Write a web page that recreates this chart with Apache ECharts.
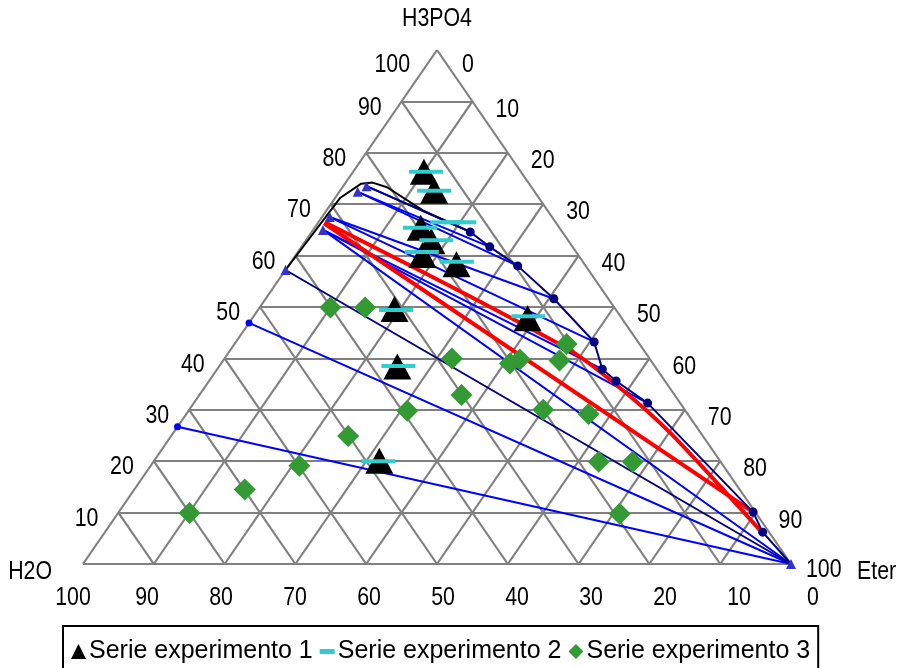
<!DOCTYPE html>
<html><head><meta charset="utf-8">
<script src="https://cdn.jsdelivr.net/npm/echarts@6/dist/echarts.min.js"></script>
<style>html,body{margin:0;padding:0;background:#fff}#c{width:903px;height:668px}</style>
</head><body><div id="c"></div>
<script>
// All points are ternary compositions given as [Eter %, H3PO4 %]; H2O % = 100 - Eter - H3PO4
const ticks = [0, 10, 20, 30, 40, 50, 60, 70, 80, 90, 100];
const vertexNames = ['H2O', 'Eter', 'H3PO4'];
const seriesNames = ['Serie experimento 1', 'Serie experimento 2', 'Serie experimento 3'];

const exp1 = [[10.0,76.3],[13.3,72.6],[15.0,65.4],[17.8,62.8],[17.9,60.1],[23.6,58.3],[19.2,49.6],[38.9,47.8],[25.2,38.4],[31.8,20.1]];
const exp2 = [[10.3,76.3],[13.3,72.6],[18.2,66.5],[19.9,66.5],[14.9,65.4],[18.4,63.0],[17.5,60.7],[23.4,58.8],[19.5,49.4],[38.8,48.2],[25.3,38.5],[31.7,20.0]];
const exp3 = [[10.0,49.9],[14.9,49.9],[32.1,40.0],[40.8,39.0],[41.8,39.8],[46.9,42.8],[47.5,39.6],[37.0,32.9],[30.9,29.8],[50.0,30.0],[56.8,29.2],[25.0,24.9],[21.0,19.1],[62.9,19.9],[67.7,19.9],[15.6,14.5],[10.1,9.9],[70.9,9.8]];

// binodal curve (ether-rich branch, navy with dots)
const binodalRight = [[3.3,73.5],[22.4,64.6],[26.6,61.7],[32.4,58.0],[40.7,51.6],[50.6,43.2],[54.4,37.9],[57.5,35.6],[64.1,31.3],[89.6,10.1],[92.9,6.2],[100,0]];
// binodal curve (water-rich branch, black)
const binodalLeft = [[0,57.2],[0.7,71.2],[2.3,74.0],[3.8,74.2],[6.3,73.3],[13.6,68.8],[22.4,64.6]];
// tie lines (blue)
const tieLines = [
  [[3.3,73.5],[22.4,64.6]],
  [[2.6,72.4],[26.6,61.7]],
  [[2.6,72.4],[32.4,58.0]],
  [[1.1,67.5],[40.7,51.6]],
  [[1.1,67.5],[50.6,43.2]],
  [[1.4,65.0],[54.4,37.9]],
  [[1.4,65.0],[64.1,31.3]],
  [[1.4,65.0],[100,0]],
  [[0,46.9],[100,0]],
  [[0,26.7],[100,0]]
];
const tieLineNavy = [[0,57.2],[100,0]];
const tieEndsTri = [[3.3,73.5],[2.6,72.4],[1.1,67.5],[1.4,65.0],[0,57.2],[100,0]];
const tieEndsDot = [[0,46.9],[0,26.7]];
// red tie lines
const redA = [[0.9,66.5],[47.3,42.0],[58.8,34.2],[70.2,25.5],[92.3,6.6]];
const redB = [[0.9,66.3],[89.6,10.1]];

const FONT = "'Liberation Sans','Arimo',Arial,sans-serif";
const NARROW = 0.82;
const LABEL_SIZE = 26;
const xy = ([e, p]) => [e + p / 2, p];
const seg = (a, b) => ({ coords: [xy(a), xy(b)] });

// triangular grid
const gridSegs = [];
for (let k = 10; k < 100; k += 10) {
  gridSegs.push(seg([0, k], [100 - k, k]));       // constant H3PO4
  gridSegs.push(seg([k, 0], [k, 100 - k]));       // constant Eter
  gridSegs.push(seg([100 - k, 0], [0, 100 - k])); // constant H2O
}
gridSegs.push(seg([0, 0], [100, 0]), seg([100, 0], [0, 100]), seg([0, 100], [0, 0]));

// text series drawn as narrow text at library coordinates
function textSeries(points, texts, place, axisIndex) {
  return {
    type: 'custom', silent: true, z: 20, clip: false,
    xAxisIndex: axisIndex || 0, yAxisIndex: axisIndex || 0,
    data: points,
    renderItem: (params, api) => {
      const c = api.coord([api.value(0), api.value(1)]);
      const o = place(params.dataIndex);
      return {
        type: 'text', x: c[0] + o[0], y: c[1] + o[1], scaleX: NARROW,
        style: { text: texts[params.dataIndex], fill: '#000', fontSize: LABEL_SIZE, fontFamily: FONT,
                 align: o[2], verticalAlign: 'middle' }
      };
    }
  };
}

const leftTicks = ticks.filter(t => t > 0);
const chart = echarts.init(document.getElementById('c'), null, { renderer: 'canvas' });
chart.setOption({
  animation: false,
  grid: [
    { left: 83, top: 50, width: 708, height: 514 },
    { left: 73, top: 583, width: 740, height: 1 }
  ],
  xAxis: [
    { gridIndex: 0, type: 'value', min: 0, max: 100, show: false },
    { gridIndex: 1, type: 'value', min: 0, max: 100, interval: 10, inverse: true, show: false }
  ],
  yAxis: [
    { gridIndex: 0, type: 'value', min: 0, max: 100, show: false },
    { gridIndex: 1, type: 'value', min: 0, max: 1, show: false }
  ],
  legend: {
    data: [
      { name: seriesNames[0], icon: 'triangle' },
      { name: seriesNames[1], icon: 'path://M0,0H12V4H0Z' },
      { name: seriesNames[2], icon: 'diamond' }
    ],
    left: 63, top: 626, itemWidth: 15, itemHeight: 15, itemGap: 7,
    padding: [13, 8, 20, 8], borderColor: '#000', borderWidth: 2,
    selectedMode: false,
    textStyle: { fontFamily: FONT, fontSize: 25, color: '#000', padding: [0, 0, 0, -2] }
  },
  series: [
    { type: 'lines', coordinateSystem: 'cartesian2d', silent: true, z: 1,
      lineStyle: { color: '#808080', width: 2.2, opacity: 1 }, data: gridSegs },
    { type: 'lines', coordinateSystem: 'cartesian2d', silent: true, z: 2,
      lineStyle: { color: '#0000FF', width: 2, opacity: 1 },
      data: tieLines.map(t => seg(t[0], t[1])) },
    { type: 'line', silent: true, z: 3, symbol: 'none',
      lineStyle: { color: '#000080', width: 2 }, data: tieLineNavy.map(xy) },
    { type: 'line', silent: true, z: 4, symbol: 'none', smooth: 0.3,
      lineStyle: { color: '#FF0000', width: 4 }, data: redA.map(xy) },
    { type: 'line', silent: true, z: 4, symbol: 'none',
      lineStyle: { color: '#FF0000', width: 4 }, data: redB.map(xy) },
    { type: 'line', silent: true, z: 5, symbol: 'none',
      lineStyle: { color: '#000000', width: 2 }, data: binodalLeft.map(xy) },
    { type: 'line', silent: true, z: 5, symbol: 'circle', showAllSymbol: true,
      itemStyle: { color: '#000080', opacity: 1 }, lineStyle: { color: '#000080', width: 2 },
      data: binodalRight.map((p, i) => ({ value: xy(p), symbolSize: (i === 0 || i === binodalRight.length - 1) ? 0 : 9 })) },
    { type: 'scatter', silent: true, z: 6, symbol: 'triangle', symbolSize: 10,
      itemStyle: { color: '#3333CC', opacity: 1 }, data: tieEndsTri.map(xy) },
    { type: 'scatter', silent: true, z: 6, symbol: 'circle', symbolSize: 7,
      itemStyle: { color: '#0000FF', opacity: 1 }, data: tieEndsDot.map(xy) },
    { name: seriesNames[0], type: 'scatter', z: 7, symbol: 'triangle', symbolSize: [28, 26],
      itemStyle: { color: '#000000', opacity: 1 }, data: exp1.map(xy) },
    { name: seriesNames[1], type: 'scatter', z: 8, symbol: 'rect', symbolSize: [34, 4],
      itemStyle: { color: '#33CCCC', opacity: 1 }, data: exp2.map(xy) },
    { name: seriesNames[2], type: 'scatter', z: 8, symbol: 'diamond', symbolSize: [22, 22],
      itemStyle: { color: '#339933', opacity: 1 }, data: exp3.map(xy) },
    // tick labels: H3PO4 (left side), Eter (right side), H2O (bottom)
    textSeries(leftTicks.map(t => xy([0, t])), leftTicks.map(String),
      i => leftTicks[i] === 100 ? [-27, 15, 'right'] : [-20, 6, 'right']),
    textSeries(ticks.map(t => xy([t, 100 - t])), ticks.map(String),
      i => ticks[i] === 0 ? [25, 15, 'left'] : ticks[i] === 100 ? [15, 6, 'left'] : [23, 8, 'left']),
    textSeries(ticks.map(t => [t, 0]), ticks.map(String), () => [0, 14, 'center'], 1),
    textSeries([xy([0, 0]), xy([100, 0]), xy([0, 100])], vertexNames,
      i => [[-31, 8, 'right'], [66, 8, 'left'], [0, -31, 'center']][i])
  ]
});
</script></body></html>
